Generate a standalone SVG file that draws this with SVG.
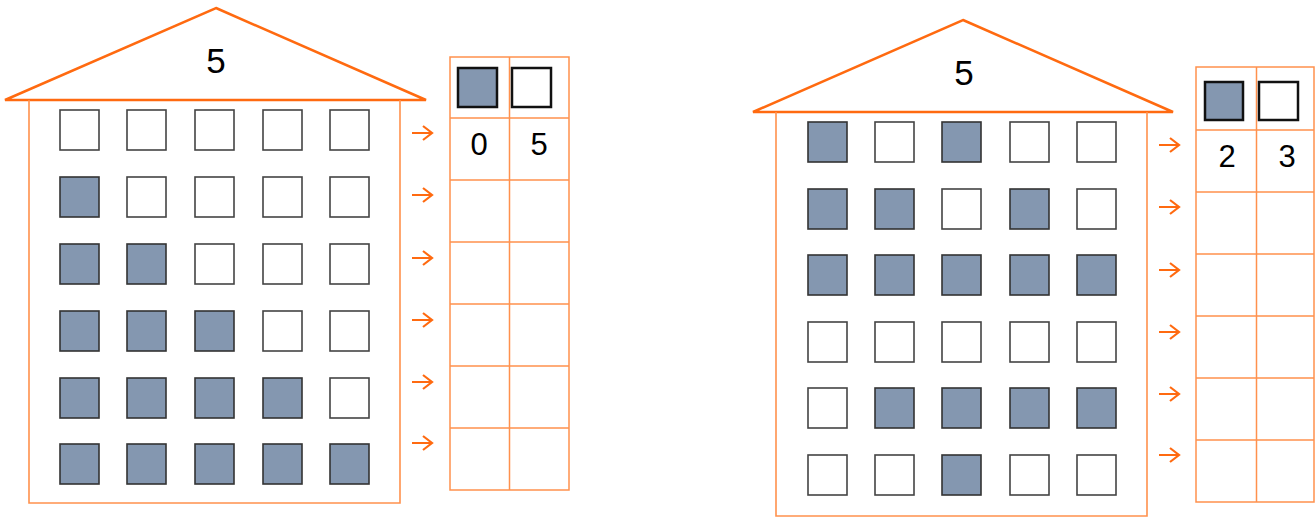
<svg xmlns="http://www.w3.org/2000/svg" width="1316" height="518" viewBox="0 0 1316 518">
<style>
.roof{fill:none;stroke:#FF6A10;stroke-width:2.5;stroke-linejoin:miter}
.body{fill:none;stroke:#FF914D;stroke-width:1.6}
.tbl{fill:none;stroke:#FF914D;stroke-width:1.5}
.w{fill:#fff;stroke:#444;stroke-width:1.6}
.f{fill:#8497B0;stroke:#333;stroke-width:1.6}
.kf{fill:#8497B0;stroke:#111;stroke-width:2.5}
.ke{fill:#fff;stroke:#111;stroke-width:2.5}
.big{font-family:"Liberation Sans",Arial,sans-serif;font-size:35px;fill:#000;text-anchor:middle}
.num{font-family:"Liberation Sans",Arial,sans-serif;font-size:31px;fill:#000;text-anchor:middle}
.arr{fill:none;stroke:#FF6A10;stroke-width:2.2}
</style>
<defs>
<path id="a" class="arr" d="M0,0 H20 M11,-7 L20,0 L11,7"/>
</defs>

<g id="house-left">
<polygon class="roof" points="216,8 426,100 5,100"/>
<polyline class="body" points="29,100 29,503 400,503 400,100"/>
<text class="big" x="216" y="73">5</text>
<g id="windows-left">
<rect class="w" x="60" y="110" width="39" height="40"/><rect class="w" x="127" y="110" width="39" height="40"/><rect class="w" x="195" y="110" width="39" height="40"/><rect class="w" x="263" y="110" width="39" height="40"/><rect class="w" x="330" y="110" width="39" height="40"/>
<rect class="f" x="60" y="177" width="39" height="40"/><rect class="w" x="127" y="177" width="39" height="40"/><rect class="w" x="195" y="177" width="39" height="40"/><rect class="w" x="263" y="177" width="39" height="40"/><rect class="w" x="330" y="177" width="39" height="40"/>
<rect class="f" x="60" y="244" width="39" height="40"/><rect class="f" x="127" y="244" width="39" height="40"/><rect class="w" x="195" y="244" width="39" height="40"/><rect class="w" x="263" y="244" width="39" height="40"/><rect class="w" x="330" y="244" width="39" height="40"/>
<rect class="f" x="60" y="311" width="39" height="40"/><rect class="f" x="127" y="311" width="39" height="40"/><rect class="f" x="195" y="311" width="39" height="40"/><rect class="w" x="263" y="311" width="39" height="40"/><rect class="w" x="330" y="311" width="39" height="40"/>
<rect class="f" x="60" y="378" width="39" height="40"/><rect class="f" x="127" y="378" width="39" height="40"/><rect class="f" x="195" y="378" width="39" height="40"/><rect class="f" x="263" y="378" width="39" height="40"/><rect class="w" x="330" y="378" width="39" height="40"/>
<rect class="f" x="60" y="444" width="39" height="40"/><rect class="f" x="127" y="444" width="39" height="40"/><rect class="f" x="195" y="444" width="39" height="40"/><rect class="f" x="263" y="444" width="39" height="40"/><rect class="f" x="330" y="444" width="39" height="40"/>
</g>
</g>

<g id="table-left">
<rect class="tbl" x="450" y="57" width="119" height="433"/>
<path class="tbl" d="M509.5,57 V490 M450,118 H569 M450,180 H569 M450,242 H569 M450,304 H569 M450,366 H569 M450,428 H569"/>
<rect class="kf" x="458" y="68" width="39" height="39"/>
<rect class="ke" x="512" y="68" width="39" height="39"/>
<text class="num" x="479" y="155">0</text>
<text class="num" x="539" y="155">5</text>
</g>

<g id="house-right">
<polygon class="roof" points="963,20 1173,112 753,112"/>
<polyline class="body" points="776,112 776,516 1147,516 1147,112"/>
<text class="big" x="964" y="85">5</text>
<g id="windows-right">
<rect class="f" x="808" y="122" width="39" height="40"/><rect class="w" x="875" y="122" width="39" height="40"/><rect class="f" x="942" y="122" width="39" height="40"/><rect class="w" x="1010" y="122" width="39" height="40"/><rect class="w" x="1077" y="122" width="39" height="40"/>
<rect class="f" x="808" y="189" width="39" height="40"/><rect class="f" x="875" y="189" width="39" height="40"/><rect class="w" x="942" y="189" width="39" height="40"/><rect class="f" x="1010" y="189" width="39" height="40"/><rect class="w" x="1077" y="189" width="39" height="40"/>
<rect class="f" x="808" y="255" width="39" height="40"/><rect class="f" x="875" y="255" width="39" height="40"/><rect class="f" x="942" y="255" width="39" height="40"/><rect class="f" x="1010" y="255" width="39" height="40"/><rect class="f" x="1077" y="255" width="39" height="40"/>
<rect class="w" x="808" y="322" width="39" height="40"/><rect class="w" x="875" y="322" width="39" height="40"/><rect class="w" x="942" y="322" width="39" height="40"/><rect class="w" x="1010" y="322" width="39" height="40"/><rect class="w" x="1077" y="322" width="39" height="40"/>
<rect class="w" x="808" y="388" width="39" height="40"/><rect class="f" x="875" y="388" width="39" height="40"/><rect class="f" x="942" y="388" width="39" height="40"/><rect class="f" x="1010" y="388" width="39" height="40"/><rect class="f" x="1077" y="388" width="39" height="40"/>
<rect class="w" x="808" y="455" width="39" height="40"/><rect class="w" x="875" y="455" width="39" height="40"/><rect class="f" x="942" y="455" width="39" height="40"/><rect class="w" x="1010" y="455" width="39" height="40"/><rect class="w" x="1077" y="455" width="39" height="40"/>
</g>
</g>

<g id="table-right">
<rect class="tbl" x="1196" y="67" width="118" height="435"/>
<path class="tbl" d="M1256.5,67 V502 M1196,130 H1314 M1196,192 H1314 M1196,254 H1314 M1196,316 H1314 M1196,378 H1314 M1196,440 H1314"/>
<rect class="kf" x="1205" y="82" width="38" height="38"/>
<rect class="ke" x="1259" y="82" width="39" height="38"/>
<text class="num" x="1227" y="167">2</text>
<text class="num" x="1287" y="167">3</text>
</g>

<g id="connectors">
<use href="#a" x="412" y="133"/><use href="#a" x="412" y="195"/><use href="#a" x="412" y="258"/><use href="#a" x="412" y="320"/><use href="#a" x="412" y="382"/><use href="#a" x="412" y="443"/>
<use href="#a" x="1159" y="145"/><use href="#a" x="1159" y="207"/><use href="#a" x="1159" y="270"/><use href="#a" x="1159" y="332"/><use href="#a" x="1159" y="394"/><use href="#a" x="1159" y="455"/>
</g>
</svg>
